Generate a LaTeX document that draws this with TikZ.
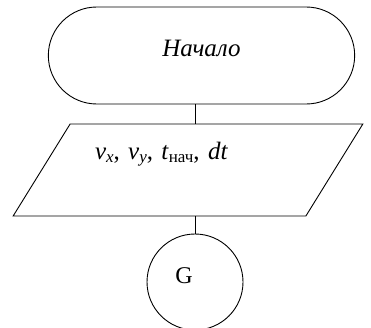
\documentclass[tikz,border=0pt]{standalone}
\usepackage{fontspec}
\setmainfont{Liberation Serif}
\usetikzlibrary{shapes.misc,shapes.geometric}
\newcommand{\lowidx}[1]{\raisebox{-0.3ex}{\fontsize{17}{17}\selectfont #1}}
\tikzset{
  startbox/.style={draw, line width=0.9pt, rounded rectangle, minimum width=313pt, minimum height=97pt, font=\fontsize{25}{30}\selectfont\itshape, text height=17pt, text depth=15pt},
  databox/.style={draw, line width=0.9pt, trapezium, trapezium left angle=51, trapezium right angle=129, trapezium stretches=true, minimum width=351pt, minimum height=92pt, font=\fontsize{25}{30}\selectfont, text width=200pt, align=left, text height=17pt, text depth=38pt},
  connbox/.style={draw, line width=0.9pt, circle, minimum size=96pt, inner sep=0pt, font=\fontsize{24}{28}\selectfont, text height=16pt, text depth=14pt},
  link/.style={line width=0.9pt}
}

\begin{document}
\begin{tikzpicture}[x=1pt,y=1pt]
  \useasboundingbox (0,0) rectangle (371,327);
  \node[startbox] (start) at (201.5,271.5) {Начало};
  \node[databox] (input) at (188,157) {\hspace*{7pt}\textit{v}\lowidx{\textit{x}}, \textit{v}\lowidx{\textit{y}}, \textit{t}\lowidx{нач}, \textit{dt}};
  \node[connbox] (conn) at (195,45) {G\hspace*{22pt}};

  \draw[link] (start.south -| conn.north) -- (input.north -| conn.north);
  \draw[link] (input.south -| conn.north) -- (conn.north);
\end{tikzpicture}
\end{document}
